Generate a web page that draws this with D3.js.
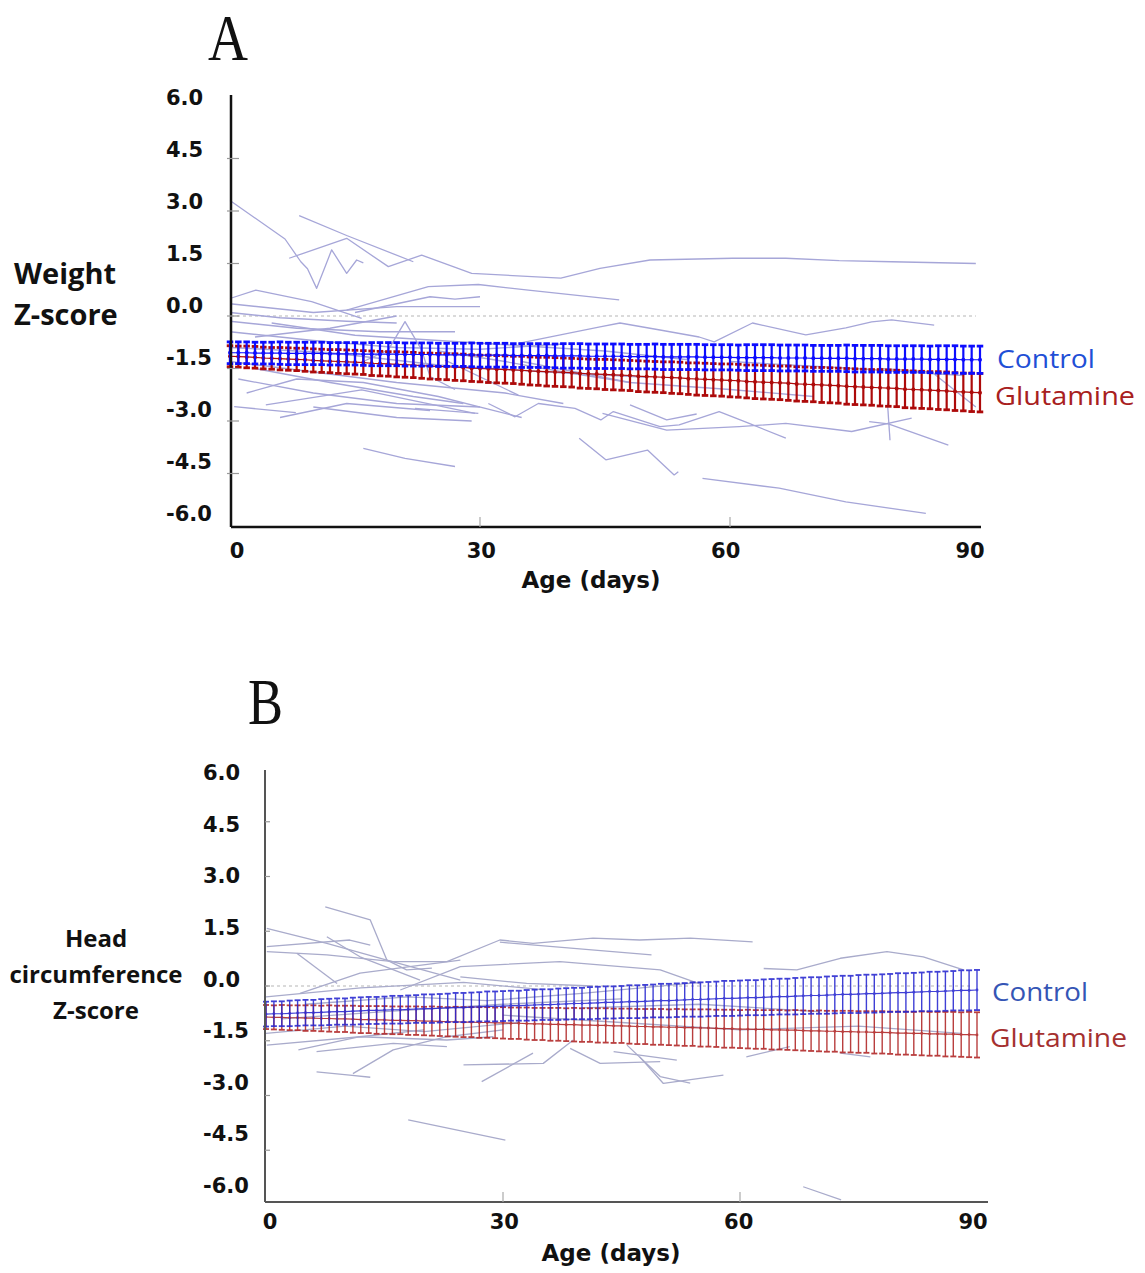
<!DOCTYPE html>
<html>
<head>
<meta charset="utf-8">
<script src="https://cdn.jsdelivr.net/npm/d3@7"></script>
<style>
  body { margin: 0; background: #fff; }
  svg { display: block; }
  .tick-label { font-family: "DejaVu Sans", sans-serif; font-weight: bold; font-size: 21px; fill: #111; }
  .axis-title { font-family: "DejaVu Sans", sans-serif; font-weight: bold; font-size: 23px; fill: #111; }
  .y-title { font-family: "Open Sans", sans-serif; font-weight: bold; fill: #111; }
  .group-label { font-family: "Open Sans", sans-serif; font-size: 26px; }
  .panel-letter { font-family: "Liberation Serif", serif; font-size: 66px; fill: #111; }
</style>
</head>
<body>
<div id="chart"></div>
<script>

// day of each model estimate (0..90)
var days = d3.range(0, 91);
var yTicks = [6, 4.5, 3, 1.5, 0, -1.5, -3, -4.5, -6];
var xTicks = [0, 30, 60, 90];
var groups = ["Control", "Glutamine"];

// A: weight z-score, model means and half error bars per day
var weightControlMean = [
  -1.05,-1.05,-1.05,-1.06,-1.06,-1.06,-1.06,-1.07,-1.07,-1.07,
  -1.07,-1.07,-1.08,-1.08,-1.08,-1.08,-1.09,-1.09,-1.09,-1.09,
  -1.09,-1.10,-1.10,-1.10,-1.10,-1.11,-1.11,-1.11,-1.11,-1.11,
  -1.12,-1.12,-1.12,-1.12,-1.13,-1.13,-1.13,-1.13,-1.13,-1.14,
  -1.14,-1.14,-1.14,-1.15,-1.15,-1.15,-1.15,-1.15,-1.16,-1.16,
  -1.16,-1.16,-1.17,-1.17,-1.17,-1.17,-1.17,-1.18,-1.18,-1.18,
  -1.18,-1.19,-1.19,-1.19,-1.19,-1.19,-1.20,-1.20,-1.20,-1.20,
  -1.21,-1.21,-1.21,-1.21,-1.21,-1.22,-1.22,-1.22,-1.22,-1.23,
  -1.23,-1.23,-1.23,-1.23,-1.24,-1.24,-1.24,-1.24,-1.25,-1.25,
  -1.25];
var weightControlErr = [
  0.31,0.31,0.31,0.31,0.31,0.31,0.32,0.32,0.32,0.32,
  0.32,0.32,0.32,0.32,0.32,0.32,0.32,0.33,0.33,0.33,
  0.33,0.33,0.33,0.33,0.33,0.33,0.33,0.33,0.33,0.34,
  0.34,0.34,0.34,0.34,0.34,0.34,0.34,0.34,0.34,0.34,
  0.35,0.35,0.35,0.35,0.35,0.35,0.35,0.35,0.35,0.35,
  0.35,0.36,0.36,0.36,0.36,0.36,0.36,0.36,0.36,0.36,
  0.36,0.36,0.37,0.37,0.37,0.37,0.37,0.37,0.37,0.37,
  0.37,0.37,0.37,0.37,0.38,0.38,0.38,0.38,0.38,0.38,
  0.38,0.38,0.38,0.38,0.38,0.39,0.39,0.39,0.39,0.39,
  0.39];
var weightGlutMean = [
  -1.15,-1.16,-1.17,-1.18,-1.20,-1.21,-1.22,-1.23,-1.24,-1.25,
  -1.27,-1.28,-1.29,-1.30,-1.31,-1.32,-1.33,-1.35,-1.36,-1.37,
  -1.38,-1.39,-1.40,-1.42,-1.43,-1.44,-1.45,-1.46,-1.47,-1.49,
  -1.50,-1.51,-1.52,-1.53,-1.54,-1.55,-1.57,-1.58,-1.59,-1.60,
  -1.61,-1.62,-1.64,-1.65,-1.66,-1.67,-1.68,-1.69,-1.70,-1.72,
  -1.73,-1.74,-1.75,-1.76,-1.77,-1.79,-1.80,-1.81,-1.82,-1.83,
  -1.84,-1.85,-1.87,-1.88,-1.89,-1.90,-1.91,-1.92,-1.94,-1.95,
  -1.96,-1.97,-1.98,-1.99,-2.01,-2.02,-2.03,-2.04,-2.05,-2.06,
  -2.07,-2.09,-2.10,-2.11,-2.12,-2.13,-2.14,-2.16,-2.17,-2.18,
  -2.19];
var weightGlutErr = [
  0.30,0.30,0.31,0.31,0.31,0.31,0.32,0.32,0.32,0.33,
  0.33,0.33,0.33,0.34,0.34,0.34,0.34,0.35,0.35,0.35,
  0.36,0.36,0.36,0.36,0.37,0.37,0.37,0.38,0.38,0.38,
  0.38,0.39,0.39,0.39,0.39,0.40,0.40,0.40,0.41,0.41,
  0.41,0.41,0.42,0.42,0.42,0.43,0.43,0.43,0.43,0.44,
  0.44,0.44,0.44,0.45,0.45,0.45,0.46,0.46,0.46,0.46,
  0.47,0.47,0.47,0.48,0.48,0.48,0.48,0.49,0.49,0.49,
  0.49,0.50,0.50,0.50,0.51,0.51,0.51,0.51,0.52,0.52,
  0.52,0.53,0.53,0.53,0.53,0.54,0.54,0.54,0.54,0.55,
  0.55];

// B: head circumference z-score
var headControlMean = [
  -0.77,-0.76,-0.76,-0.75,-0.74,-0.73,-0.73,-0.72,-0.71,-0.70,
  -0.70,-0.69,-0.68,-0.67,-0.67,-0.66,-0.65,-0.65,-0.64,-0.63,
  -0.62,-0.62,-0.61,-0.60,-0.59,-0.59,-0.58,-0.57,-0.56,-0.56,
  -0.55,-0.54,-0.54,-0.53,-0.52,-0.51,-0.51,-0.50,-0.49,-0.48,
  -0.48,-0.47,-0.46,-0.45,-0.45,-0.44,-0.43,-0.43,-0.42,-0.41,
  -0.40,-0.40,-0.39,-0.38,-0.37,-0.37,-0.36,-0.35,-0.34,-0.34,
  -0.33,-0.32,-0.32,-0.31,-0.30,-0.29,-0.29,-0.28,-0.27,-0.26,
  -0.26,-0.25,-0.24,-0.23,-0.23,-0.22,-0.21,-0.21,-0.20,-0.19,
  -0.18,-0.18,-0.17,-0.16,-0.15,-0.15,-0.14,-0.13,-0.12,-0.12,
  -0.11];
var headControlErr = [
  0.34,0.34,0.34,0.35,0.35,0.35,0.35,0.36,0.36,0.36,
  0.36,0.37,0.37,0.37,0.37,0.37,0.38,0.38,0.38,0.38,
  0.39,0.39,0.39,0.39,0.40,0.40,0.40,0.40,0.41,0.41,
  0.41,0.41,0.41,0.42,0.42,0.42,0.42,0.43,0.43,0.43,
  0.43,0.44,0.44,0.44,0.44,0.44,0.45,0.45,0.45,0.45,
  0.46,0.46,0.46,0.46,0.47,0.47,0.47,0.47,0.48,0.48,
  0.48,0.48,0.48,0.49,0.49,0.49,0.49,0.50,0.50,0.50,
  0.50,0.51,0.51,0.51,0.51,0.52,0.52,0.52,0.52,0.52,
  0.53,0.53,0.53,0.53,0.54,0.54,0.54,0.54,0.55,0.55,
  0.55];
var headGlutMean = [
  -0.85,-0.86,-0.86,-0.87,-0.87,-0.88,-0.88,-0.89,-0.89,-0.90,
  -0.90,-0.91,-0.92,-0.92,-0.93,-0.93,-0.94,-0.94,-0.95,-0.95,
  -0.96,-0.96,-0.97,-0.98,-0.98,-0.99,-0.99,-1.00,-1.00,-1.01,
  -1.01,-1.02,-1.02,-1.03,-1.04,-1.04,-1.05,-1.05,-1.06,-1.06,
  -1.07,-1.07,-1.08,-1.08,-1.09,-1.09,-1.10,-1.11,-1.11,-1.12,
  -1.12,-1.13,-1.13,-1.14,-1.14,-1.15,-1.15,-1.16,-1.17,-1.17,
  -1.18,-1.18,-1.19,-1.19,-1.20,-1.20,-1.21,-1.21,-1.22,-1.23,
  -1.23,-1.24,-1.24,-1.25,-1.25,-1.26,-1.26,-1.27,-1.27,-1.28,
  -1.29,-1.29,-1.30,-1.30,-1.31,-1.31,-1.32,-1.32,-1.33,-1.33,
  -1.34];
var headGlutErr = [
  0.33,0.33,0.34,0.34,0.34,0.35,0.35,0.35,0.36,0.36,
  0.36,0.37,0.37,0.37,0.38,0.38,0.38,0.38,0.39,0.39,
  0.39,0.40,0.40,0.40,0.41,0.41,0.41,0.42,0.42,0.42,
  0.43,0.43,0.43,0.44,0.44,0.44,0.45,0.45,0.45,0.46,
  0.46,0.46,0.47,0.47,0.47,0.47,0.48,0.48,0.48,0.49,
  0.49,0.49,0.50,0.50,0.50,0.51,0.51,0.51,0.52,0.52,
  0.52,0.53,0.53,0.53,0.54,0.54,0.54,0.55,0.55,0.55,
  0.56,0.56,0.56,0.57,0.57,0.57,0.57,0.58,0.58,0.58,
  0.59,0.59,0.59,0.60,0.60,0.60,0.61,0.61,0.61,0.62,
  0.62];

// individual infant trajectories, [day, z-score]
var weightTraj = [
  [[0,3.3],[6.6,2.2],[8.5,1.55],[9.3,1.35],[10.4,0.79],[12.2,1.89],[14,1.22],[15.2,1.6],[16,1.52]],
  [[8.3,2.87],[14,2.3],[22,1.55]],
  [[7.1,1.65],[14,2.22],[19,1.41],[23,1.74],[29,1.22],[39.7,1.08],[44.4,1.36],[50.4,1.6],[60.3,1.65],[66.7,1.65],[73.1,1.58],[79.4,1.55],[89.5,1.5]],
  [[0,0.5],[3.1,0.74],[9.8,0.41],[15.8,-0.07]],
  [[0,0.35],[10,0.1],[20,0.27],[30,0.27]],
  [[14,0.17],[23.8,0.84],[29.8,0.9],[35.8,0.74],[46.7,0.46]],
  [[15,0.1],[24,0.55],[27,0.48],[30,0.55]],
  [[0,-0.15],[8,-0.35],[18,-0.45],[27,-0.45]],
  [[0,0.1],[6,-0.05],[14,-0.15],[20,-0.2]],
  [[3,-0.6],[12,-0.35],[20,0.0]],
  [[0,-0.45],[10,-0.7],[20,-0.9],[30,-0.95],[40,-0.8]],
  [[34.6,-0.78],[44.4,-0.31],[46.8,-0.2],[51.6,-0.4],[56.3,-0.6],[58.1,-0.74],[62.7,-0.2],[69.1,-0.54],[73.9,-0.34],[77,-0.17],[79.4,-0.11],[84.5,-0.26]],
  [[16,-1.3],[19,-0.97],[21,-0.16],[23,-0.97],[24,-1.73],[27,-2.1]],
  [[25.8,-1.26],[34.6,-2.26]],
  [[4.3,-2.54],[15.8,-2.11],[29.4,-2.78]],
  [[0.5,-2.59],[7.9,-2.76]],
  [[22.2,-2.64],[29.8,-2.78]],
  [[31,-2.5],[34.2,-2.88],[37,-2.5],[41.4,-2.64],[44.5,-2.97],[46,-2.73],[51.6,-3.16],[53.9,-3.11],[58.7,-2.73],[62.3,-3.07],[66.7,-3.49]],
  [[44.7,-2.78],[52.4,-3.26],[61.1,-3.16],[66.7,-3.07],[74.6,-3.3],[81.8,-2.92]],
  [[48,-2.54],[52.4,-2.97],[56,-2.8]],
  [[76.7,-3.02],[79,-3.08],[86.2,-3.69]],
  [[78.9,-2.5],[79.2,-3.55]],
  [[41.9,-3.49],[45.1,-4.11],[50.1,-3.83],[53.3,-4.54],[53.8,-4.45]],
  [[56.7,-4.64],[65.9,-4.92],[73.9,-5.31],[83.5,-5.64]],
  [[16,-3.78],[21,-4.07],[27,-4.3]],
  [[78,-1.5],[84.2,-1.6],[89.5,-2.6]],
  [[2,-2.2],[8,-1.8],[16,-1.9],[25,-2.3],[35,-2.9]],
  [[1,-1.8],[10,-2.2],[20,-2.5],[30,-2.6]],
  [[3,-1.5],[12,-1.9],[22,-2.3],[28,-2.5]],
  [[0,-1.3],[10,-1.6],[20,-1.9],[33,-2.2],[40,-2.5]],
  [[6,-2.9],[14,-2.5],[24,-2.7]],
  [[10,-2.6],[20,-2.9],[29,-3.0]],
  [[25,-1.0],[33,-1.3],[40,-1.6],[48,-1.9]],
  [[35,-1.3],[48,-1.9],[60,-2.1],[70,-2.3]],
  [[60,-1.3],[75,-1.5],[88,-1.7]],
  [[0,-0.9],[12,-1.05],[25,-1.4],[38,-1.6],[50,-1.75]],
  [[5,-0.2],[15,-0.55],[25,-0.7],[35,-0.85],[45,-1.0],[55,-1.25]]
];

var headTraj = [
  [[7.5,2.17],[13.2,1.81],[15.3,0.71],[17.8,0.44],[21,0.49]],
  [[0.1,1.58],[7.7,1.17],[15.3,0.71],[24.6,0.16]],
  [[0.1,1.08],[10.6,1.26],[13.2,1.12]],
  [[0.1,0.94],[7.7,0.85],[16.1,0.67],[22.9,0.67],[29.6,1.26],[33.8,1.17],[41.4,1.31],[47.3,1.26],[53.7,1.31],[61.6,1.21]],
  [[29.6,1.2],[48.8,0.85]],
  [[7.7,1.35],[11.9,0.8],[19.5,0.16]],
  [[3.9,0.9],[9,0.07]],
  [[4.3,-0.2],[11.9,0.35],[18.2,0.53],[24.6,0.71]],
  [[17,-0.11],[24.6,0.53],[37.2,0.67],[49.9,0.44],[55,0.05]],
  [[63,0.48],[67.2,0.44],[72.7,0.76],[78.6,0.94],[83.2,0.8],[88.3,0.44]],
  [[0.1,-1.62],[11.9,-1.39],[22.9,-1.48],[28.8,-1.39]],
  [[4.1,-1.75],[11.9,-1.39],[20,-1.2]],
  [[6.4,-1.8],[16.1,-1.57],[22.9,-1.66]],
  [[6.4,-2.35],[10.6,-2.44],[13.2,-2.5]],
  [[11,-2.4],[16.1,-1.75],[22.9,-1.39],[30,-1.2]],
  [[25,-2.16],[35.1,-2.12],[38.9,-1.48]],
  [[27.3,-2.62],[33.8,-1.84]],
  [[38.5,-1.71],[42.3,-2.12],[49.9,-2.07]],
  [[45.7,-1.62],[49.9,-2.48],[53.7,-2.66]],
  [[18,-3.67],[30.3,-4.22]],
  [[68,-5.5],[72.8,-5.86]],
  [[47.3,-1.94],[50.3,-2.67],[57.9,-2.44]],
  [[44,-1.8],[52,-2.03]],
  [[60.8,-1.94],[66.3,-1.66]],
  [[72.7,-1.84],[76.5,-1.94]],
  [[0,-0.3],[12,-0.05],[25,0.1],[35,-0.1]],
  [[2,-0.9],[15,-0.7],[30,-0.5],[45,-0.35]],
  [[0,-1.3],[10,-1.1],[20,-1.25],[32,-1.0]],
  [[5,-0.5],[18,-0.3],[28,-0.4],[40,-0.2],[55,0.1]],
  [[30,-0.8],[45,-1.0],[60,-1.2],[75,-1.1],[88,-1.3]],
  [[40,-0.6],[55,-0.5],[70,-0.7]],
  [[24.6,0.25],[33,0.07],[41.4,0.0]]
];


var svg = d3.select("#chart").append("svg")
  .attr("width", 1145)
  .attr("height", 1273);

// plain hyphen for negatives, like the original
function fmt(v) { return v.toFixed(1); }

function drawPanel(p) {
  var x = d3.scaleLinear().domain([0, 90]).range(p.xRange);
  var y = d3.scaleLinear().domain([-6, 6]).range(p.yRange);
  // tick text sits a little off the ticks in the original figure
  var xl = d3.scaleLinear().domain([0, 90]).range(p.xLabelRange);
  var yl = d3.scaleLinear().domain([6, -6]).range(p.yLabelRange);

  var g = svg.append("g");

  // zero reference
  g.append("line")
    .attr("x1", p.axisX).attr("x2", x(89.5))
    .attr("y1", y(0)).attr("y2", y(0))
    .attr("stroke", "#b5b5b5")
    .attr("stroke-width", 1.2)
    .attr("stroke-dasharray", "3,3");

  // individual trajectories
  var line = d3.line()
    .x(function(d) { return x(d[0]); })
    .y(function(d) { return y(d[1]); });

  g.append("g").selectAll("path")
    .data(p.traj)
    .enter().append("path")
    .attr("d", line)
    .attr("fill", "none")
    .attr("stroke", p.trajColor)
    .attr("stroke-width", 1.3)
    .attr("stroke-linejoin", "round");

  // model estimates with error bars, glutamine under control
  p.series.slice().reverse().forEach(function(s) {
    var pts = days.map(function(d, i) { return { d: d, m: s.mean[i], e: s.err[i] }; });
    var sg = g.append("g").attr("opacity", p.barOpacity);

    sg.selectAll(".bar").data(pts).enter().append("line")
      .attr("x1", function(d) { return x(d.d); })
      .attr("x2", function(d) { return x(d.d); })
      .attr("y1", function(d) { return y(d.m - d.e); })
      .attr("y2", function(d) { return y(d.m + d.e); })
      .attr("stroke", s.color)
      .attr("stroke-width", p.barWidth);

    [-1, 1].forEach(function(sign) {
      sg.selectAll(".cap" + sign).data(pts).enter().append("line")
        .attr("x1", function(d) { return x(d.d) - p.capW / 2; })
        .attr("x2", function(d) { return x(d.d) + p.capW / 2; })
        .attr("y1", function(d) { return y(d.m + sign * d.e); })
        .attr("y2", function(d) { return y(d.m + sign * d.e); })
        .attr("stroke", s.color)
        .attr("stroke-width", p.capStroke);
    });

    sg.append("path")
      .datum(pts)
      .attr("d", d3.line().x(function(d) { return x(d.d); }).y(function(d) { return y(d.m); }))
      .attr("fill", "none")
      .attr("stroke", s.color)
      .attr("stroke-width", 1.2);

    sg.selectAll("circle").data(pts).enter().append("circle")
      .attr("cx", function(d) { return x(d.d); })
      .attr("cy", function(d) { return y(d.m); })
      .attr("r", p.dotR)
      .attr("fill", s.color);

    g.append("text")
      .attr("class", "group-label")
      .attr("x", s.labelX)
      .attr("y", s.labelY)
      .attr("dominant-baseline", "central")
      .attr("textLength", s.labelW)
      .attr("lengthAdjust", "spacingAndGlyphs")
      .style("fill", s.textColor)
      .text(s.name);
  });

  // axes
  g.append("line")
    .attr("x1", p.axisX).attr("x2", p.axisX)
    .attr("y1", p.axisTop).attr("y2", p.axisY)
    .attr("stroke", p.axisColor).attr("stroke-width", p.axisWidth);
  g.append("line")
    .attr("x1", p.axisX).attr("x2", p.axisRight)
    .attr("y1", p.axisY).attr("y2", p.axisY)
    .attr("stroke", p.axisColor).attr("stroke-width", p.axisWidth);

  g.selectAll(".ytick").data(yTicks.slice(1, -1)).enter().append("line")
    .attr("x1", p.axisX - p.tickIn).attr("x2", p.axisX + p.tickOut)
    .attr("y1", function(d) { return y(d); })
    .attr("y2", function(d) { return y(d); })
    .attr("stroke", "#999").attr("stroke-width", 1.2);

  g.selectAll(".xtick").data(xTicks.slice(1, -1)).enter().append("line")
    .attr("x1", function(d) { return x(d); })
    .attr("x2", function(d) { return x(d); })
    .attr("y1", p.axisY).attr("y2", p.axisY - 10)
    .attr("stroke", "#aaa").attr("stroke-width", 1.2);

  g.selectAll(".ylab").data(yTicks).enter().append("text")
    .attr("class", "tick-label")
    .attr("x", p.yLabelX)
    .attr("y", function(d) { return yl(d); })
    .attr("dominant-baseline", "central")
    .text(fmt);

  g.selectAll(".xlab").data(xTicks).enter().append("text")
    .attr("class", "tick-label")
    .attr("x", function(d) { return xl(d); })
    .attr("y", p.xLabelY)
    .attr("text-anchor", "middle")
    .attr("dominant-baseline", "central")
    .text(function(d) { return d; });

  g.append("text")
    .attr("class", "axis-title")
    .attr("x", p.xTitle[0]).attr("y", p.xTitle[1])
    .attr("text-anchor", "middle")
    .attr("dominant-baseline", "central")
    .text("Age (days)");

  g.selectAll(".ytitle").data(p.yTitle).enter().append("text")
    .attr("class", "y-title")
    .attr("x", p.yTitleX)
    .attr("y", function(d, i) { return p.yTitleY + i * p.yTitleStep; })
    .attr("text-anchor", p.yTitleAnchor)
    .attr("dominant-baseline", "central")
    .style("font-size", p.yTitleSize + "px")
    .text(function(d) { return d; });

  g.append("text")
    .attr("class", "panel-letter")
    .attr("x", p.letter[1]).attr("y", p.letter[2])
    .attr("textLength", p.letter[3])
    .attr("lengthAdjust", "spacingAndGlyphs")
    .text(p.letter[0]);
}

drawPanel({
  traj: weightTraj,
  trajColor: "#a6a6d8",
  series: [
    { name: groups[0], mean: weightControlMean, err: weightControlErr, color: "#0c0cff", textColor: "#1f4fd6", labelX: 997, labelY: 358, labelW: 98 },
    { name: groups[1], mean: weightGlutMean, err: weightGlutErr, color: "#ad0a0a", textColor: "#a82020", labelX: 995, labelY: 395, labelW: 140 }
  ],
  xRange: [230, 980], yRange: [526, 106],
  xLabelRange: [237, 970], yLabelRange: [98, 514],
  axisX: 231, axisTop: 95, axisY: 527, axisRight: 981,
  axisColor: "#111", axisWidth: 2.5, tickIn: 4, tickOut: 8,
  barWidth: 2.2, capW: 6.5, capStroke: 2.8, dotR: 2, barOpacity: 1,
  yLabelX: 166, xLabelY: 551, xTitle: [591, 580],
  yTitle: ["Weight", "Z-score"], yTitleX: 14, yTitleY: 272, yTitleStep: 41,
  yTitleAnchor: "start", yTitleSize: 29,
  letter: ["A", 208, 60, 40]
});

drawPanel({
  traj: headTraj,
  trajColor: "#a9abcb",
  series: [
    { name: groups[0], mean: headControlMean, err: headControlErr, color: "#2626d0", textColor: "#3555b5", labelX: 992, labelY: 991, labelW: 96 },
    { name: groups[1], mean: headGlutMean, err: headGlutErr, color: "#b02424", textColor: "#a53030", labelX: 990, labelY: 1037, labelW: 137 }
  ],
  xRange: [266, 977], yRange: [1205, 767],
  xLabelRange: [270, 973], yLabelRange: [773, 1186],
  axisX: 265, axisTop: 770, axisY: 1202, axisRight: 988,
  axisColor: "#555", axisWidth: 2, tickIn: 0, tickOut: 5,
  barWidth: 1.4, capW: 6, capStroke: 1.8, dotR: 1.4, barOpacity: 0.88,
  yLabelX: 203, xLabelY: 1222, xTitle: [611, 1253],
  yTitle: ["Head", "circumference", "Z-score"], yTitleX: 96, yTitleY: 937, yTitleStep: 36,
  yTitleAnchor: "middle", yTitleSize: 24,
  letter: ["B", 248, 724, 35]
});

</script>
</body>
</html>
